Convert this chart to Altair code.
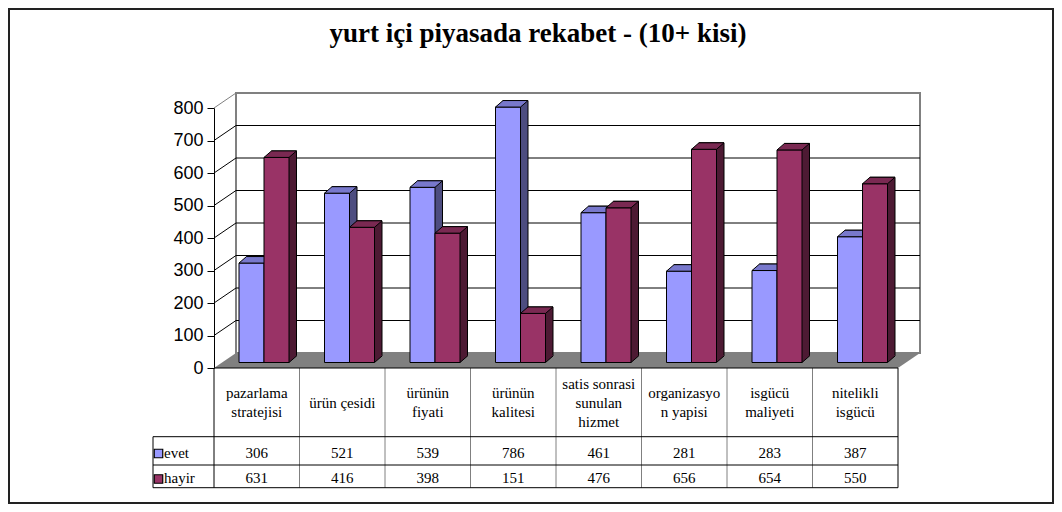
import altair as alt
import pandas as pd

# ---------------- data ----------------
categories = ["pazarlama\nstratejisi", "ürün çesidi", "ürünün\nfiyati", "ürünün\nkalitesi",
              "satis sonrasi\nsunulan\nhizmet", "organizasyo\nn yapisi", "isgücü\nmaliyeti",
              "nitelikli\nisgücü"]
evet = [306, 521, 539, 786, 461, 281, 283, 387]
hayir = [631, 416, 398, 151, 476, 656, 654, 550]
series = ["evet", "hayir"]
y_ticks = [0, 100, 200, 300, 400, 500, 600, 700, 800]
title_text = "yurt içi piyasada rekabet - (10+ kisi)"

# ---------------- styling constants ----------------
W, H = 684, 260
WALL_DX, WALL_DY = 22, 15
BAR_W, BAR_D, BAR_H = 25, 7.5, 6.5
BASE = -5.5
front = {"evet": "#9999FF", "hayir": "#993366"}
top_c = {"evet": "#7878CC", "hayir": "#7A2952"}
side_c = {"evet": "#4D4D80", "hayir": "#4D1A33"}
center_off = {"evet": -5.25, "hayir": 19.75}
SERIF = "Liberation Serif"
SANS = "Liberation Sans"

df = pd.DataFrame({"cat": categories, "evet": evet, "hayir": hayir})
df["zero"] = 0
ticks_df = pd.DataFrame({"v": y_ticks})
one = pd.DataFrame({"v": [0]})

xs = alt.Scale(domain=categories, paddingInner=0, paddingOuter=0)
ys = alt.Scale(domain=[0, 800], nice=False, zero=True)
yaxis = alt.Axis(values=y_ticks, title=None, grid=False, domainColor="black", domainWidth=1,
                 tickColor="black", tickSize=7, tickWidth=1, labelFont=SANS, labelFontSize=18,
                 labelColor="black", labelPadding=4)


def yenc(field):
    return alt.Y(field, type="quantitative", scale=ys, axis=yaxis)


def xenc():
    return alt.X("cat:N", scale=xs, axis=None)


layers = []

# outer frame
layers.append(alt.Chart(one).mark_rect(fill="transparent", stroke="#222222", strokeWidth=2).encode(
    x=alt.value(-205), x2=alt.value(839), y=alt.value(-99), y2=alt.value(395)))

# back wall
layers.append(alt.Chart(pd.DataFrame({"top": [800], "bot": [0]})).mark_rect(
    fill="white", stroke="#808080", strokeWidth=2, yOffset=-WALL_DY, y2Offset=-WALL_DY).encode(
    x=alt.value(WALL_DX), x2=alt.value(W + WALL_DX), y=yenc("top"), y2=alt.Y2("bot")))

# gridlines on back wall
layers.append(alt.Chart(ticks_df).transform_filter("datum.v > 0 && datum.v < 800").mark_rule(
    color="black", strokeWidth=1, yOffset=-WALL_DY).encode(
    x=alt.value(WALL_DX), x2=alt.value(W + WALL_DX), y=yenc("v")))

# diagonals on left side wall
layers.append(alt.Chart(ticks_df).transform_filter("datum.v > 0").mark_rule(
    strokeWidth=1, y2Offset=-WALL_DY).encode(
    x=alt.value(0), x2=alt.value(WALL_DX), y=yenc("v"), y2=alt.Y2("v"),
    color=alt.condition("datum.v == 800", alt.value("#808080"), alt.value("black"))))

# floor (custom parallelogram symbol, scale 100 px per unit)
floor_path = "M0,0L%.4f,0L%.4f,%.4f L%.4f,%.4fZ" % (
    W / 100, (W + WALL_DX) / 100, -WALL_DY / 100, WALL_DX / 100, -WALL_DY / 100)
layers.append(alt.Chart(one).mark_point(
    shape=floor_path, size=40000, filled=True, fill="#808080", strokeWidth=0, opacity=1).encode(
    x=alt.value(0), y=yenc("v")))

# 3D bars
S = 20.0  # symbol scale (px per unit) -> size = (2*S)^2
top_path = "M0,0L%.4f,0L%.4f,%.4fL%.4f,%.4fZ" % (
    BAR_W / S, (BAR_W + BAR_D) / S, -BAR_H / S, BAR_D / S, -BAR_H / S)
bottom_path = "M0,0L0,%.4fL%.4f,%.4fL%.4f,%.4fZ" % (
    -(BAR_H + 1) / S, BAR_D / S, -(BAR_H + 1) / S, BAR_D / S, -BAR_H / S)
slant_path = "M0,0L%.4f,%.4f" % (BAR_D / S, -BAR_H / S)
SIZE = (2 * S) ** 2

for s in series:
    c = center_off[s]
    # side/depth block
    layers.append(alt.Chart(df).mark_bar(
        width=BAR_W, xOffset=c + BAR_D, yOffset=BASE - BAR_H, y2Offset=BASE - BAR_H,
        fill=side_c[s], stroke="black", strokeWidth=1).encode(
        x=xenc(), y=yenc(s), y2=alt.Y2("zero")))
    # bottom corner of side face
    layers.append(alt.Chart(df).mark_point(
        shape=bottom_path, size=SIZE, filled=True, fill=side_c[s], strokeWidth=0, opacity=1,
        xOffset=c + BAR_W / 2, yOffset=BASE).encode(x=xenc(), y=yenc("zero")))
    layers.append(alt.Chart(df).mark_point(
        shape=slant_path, size=SIZE, filled=False, color="black", strokeWidth=1, opacity=1,
        xOffset=c + BAR_W / 2, yOffset=BASE).encode(x=xenc(), y=yenc("zero")))
    # front face
    layers.append(alt.Chart(df).mark_bar(
        width=BAR_W, xOffset=c, yOffset=BASE, y2Offset=BASE,
        fill=front[s], stroke="black", strokeWidth=1).encode(
        x=xenc(), y=yenc(s), y2=alt.Y2("zero")))
    # top face
    layers.append(alt.Chart(df).mark_point(
        shape=top_path, size=SIZE, filled=True, fill=top_c[s], stroke="black", strokeWidth=1,
        opacity=1, xOffset=c - BAR_W / 2, yOffset=BASE).encode(x=xenc(), y=yenc(s)))

# ---------------- data table ----------------
ROW1, ROW2, ROW3, ROW4 = 260, 328.7, 357, 379.7
LEFT = -61
LINE_H = 19


def hrule(y, x0, x1, color="black"):
    return alt.Chart(one).mark_rule(color=color, strokeWidth=1).encode(
        x=alt.value(x0), x2=alt.value(x1), y=alt.value(y))


def vrule(x, y0, y1, color="black"):
    return alt.Chart(one).mark_rule(color=color, strokeWidth=1).encode(
        x=alt.value(x), y=alt.value(y0), y2=alt.value(y1))


layers.append(alt.Chart(pd.DataFrame({"cat": categories[1:]})).mark_rule(
    color="#808080", strokeWidth=1).encode(
    x=alt.X("cat:N", scale=xs, axis=None, bandPosition=0),
    y=alt.value(ROW1), y2=alt.value(ROW4)))
layers.append(hrule(ROW1, 0, W))
layers.append(hrule(ROW2, LEFT, W))
layers.append(hrule(ROW3, LEFT, W))
layers.append(hrule(ROW4, LEFT, W))
layers.append(vrule(0, ROW1, ROW4))
layers.append(vrule(W, ROW1, ROW4))
layers.append(vrule(LEFT, ROW2, ROW4))

# category labels, vertically centred by their number of lines
row_mid = (ROW1 + ROW2) / 2 + 0.5
for n in (1, 2, 3):
    layers.append(alt.Chart(df).transform_calculate(
        nlines="length(split(datum.cat, '\\n'))").transform_filter(
        f"datum.nlines == {n}").mark_text(
        font=SERIF, fontSize=15, lineBreak="\n", lineHeight=LINE_H, baseline="middle",
        align="center", color="black").encode(
        x=xenc(), y=alt.value(row_mid - (n - 1) * LINE_H / 2), text="cat:N"))

row_y = {"evet": 344.5, "hayir": 369.5}
key_y = {"evet": 345.5, "hayir": 371}
for s in series:
    layers.append(alt.Chart(df).mark_text(
        font=SERIF, fontSize=15, baseline="middle", align="center", color="black").encode(
        x=xenc(), y=alt.value(row_y[s]), text=alt.Text(f"{s}:Q")))
    layers.append(alt.Chart(one).mark_point(
        shape="square", size=72, filled=True, fill=front[s], stroke="black", strokeWidth=1.2,
        opacity=1).encode(x=alt.value(-55.5), y=alt.value(key_y[s])))
    layers.append(alt.Chart(one).mark_text(
        text=s, font=SERIF, fontSize=15, baseline="middle", align="left", color="black").encode(
        x=alt.value(-50), y=alt.value(row_y[s])))

# title
layers.append(alt.Chart(one).mark_text(
    text=title_text, font=SERIF, fontWeight="bold", fontSize=27, align="center",
    baseline="middle", color="black").encode(x=alt.value(324), y=alt.value(-74.5)))

chart = alt.layer(*layers).properties(
    width=W, height=H,
    autosize=alt.AutoSizeParams(type="none"),
    padding={"left": 206, "top": 100, "right": 156, "bottom": 136},
    background="white",
).configure_view(strokeWidth=0)

chart.save("out.html", embed_options={"renderer": "svg", "actions": False})
